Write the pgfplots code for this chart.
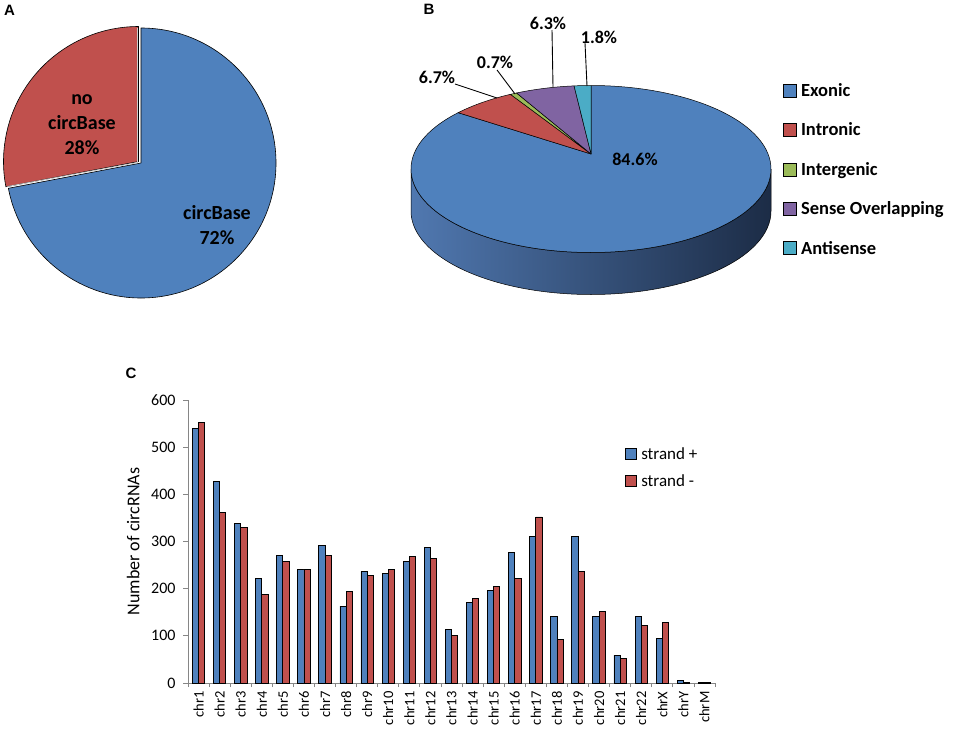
\documentclass[border=0pt]{standalone}
\usepackage{pgfplots}
\pgfplotsset{compat=1.18}
\usepackage{pgfplotstable}
\usepackage{fontspec}
\setmainfont{Carlito}
\newfontfamily\arialfont{Liberation Sans}
\definecolor{cBlue}{HTML}{4F81BD}
\definecolor{cRed}{HTML}{C0504D}
\definecolor{cGreen}{HTML}{9BBB59}
\definecolor{cPurple}{HTML}{8064A2}
\definecolor{cCyan}{HTML}{4BACC6}
\definecolor{axgray}{HTML}{868686}
\definecolor{sideL}{RGB}{80,120,176}
\definecolor{sideR}{RGB}{28,44,70}

\pgfplotstableread{
idx plus minus
0 539 553
1 427 361
2 339 329
3 222 187
4 270 257
5 241 241
6 292 271
7 163 195
8 236 229
9 233 241
10 257 268
11 287 265
12 113 101
13 171 180
14 196 205
15 277 222
16 310 352
17 141 93
18 311 237
19 141 152
20 59 53
21 142 122
22 94 129
23 6 2
24 1 1
}\strandtable

% Panel A values (percent)
\def\vCirc{72}\def\vNoCirc{28}
\pgfmathsetmacro\angA{90+360*(\vNoCirc/(\vCirc+\vNoCirc))}
\pgfmathsetmacro\angAend{\angA-360}
% Panel B values (percent)
\def\vExo{84.6}\def\vInt{6.7}\def\vIge{0.7}\def\vSen{6.3}\def\vAnt{1.8}
\pgfmathsetmacro\totB{\vExo+\vInt+\vIge+\vSen+\vAnt}
\pgfmathsetmacro\pA{90-360*(\vExo/\totB)}
\pgfmathsetmacro\pB{\pA-360*(\vInt/\totB)}
\pgfmathsetmacro\pC{\pB-360*(\vIge/\totB)}
\pgfmathsetmacro\pD{\pC-360*(\vSen/\totB)}
\pgfmathsetmacro\rhoB{0.18}
\pgfmathsetmacro\sqB{sqrt(1-\rhoB*\rhoB)}
\pgfmathsetmacro\tA{atan2(sin(\pA)+\rhoB,\sqB*cos(\pA))}
\pgfmathsetmacro\tB{atan2(sin(\pB)+\rhoB,\sqB*cos(\pB))}
\pgfmathsetmacro\tC{atan2(sin(\pC)+\rhoB,\sqB*cos(\pC))}
\pgfmathsetmacro\tD{atan2(sin(\pD)+\rhoB,\sqB*cos(\pD))}

\newcommand\wedgeB[3]{%
  \filldraw[fill=#3, draw=black, line width=0.5pt, line join=round]
    (axis cs:591,-154) -- (axis cs:{591+180*cos(#1)},{-169+83.5*sin(#1)})
    arc[start angle=#1, end angle=#2, x radius=180pt, y radius=83.5pt] -- cycle;}

\begin{document}
\begin{tikzpicture}[x=1pt,y=1pt]
\path[use as bounding box] (0,0) rectangle (957,-732);
\coordinate (Opos) at (0,-732);
\coordinate (Cpos) at (188,-683);

% ---------- overlay axis for panels A and B ----------
\begin{axis}[
  at={(Opos)}, anchor=south west,
  scale only axis, width=957pt, height=732pt,
  xmin=0, xmax=957, ymin=-732, ymax=0,
  hide axis, clip=false,
  legend image code/.code={\draw[#1, draw=black, line width=0.8pt] (0pt,-6.5pt) rectangle (13pt,6.5pt);},
  legend style={at={(axis description cs:0.8151,0.8907)}, anchor=north west,
    draw=none, fill=none, font=\bfseries\fontsize{18.5}{21}\selectfont,
    row sep=23pt, column sep=3pt, nodes={inner sep=1pt}},
  legend cell align=left,
]
% ----- panel A -----
\filldraw[fill=cBlue, draw=black, line width=0.6pt, line join=round]
  (axis cs:141,-163) -- (axis cs:141,-28)
  arc[start angle=90, end angle=\angAend, radius=135pt] -- cycle;
\filldraw[fill=cRed, draw=black, line width=0.6pt, line join=round]
  (axis cs:138.5,-161.5) -- (axis cs:138.5,-26.5)
  arc[start angle=90, end angle=\angA, radius=135pt] -- cycle;
\draw[gray!40, line width=0.8pt] (axis cs:137.4,-28) -- (axis cs:137.4,-162.6)
  -- (axis cs:{138.5+133.5*cos(\angA)},{-161.5+133.5*sin(\angA)});
\node[align=center, font=\bfseries\fontsize{20}{25}\selectfont] at (axis cs:82,-125) {no\\circBase\\28\%};
\node[align=center, font=\bfseries\fontsize{20}{25}\selectfont] at (axis cs:217,-225.5) {circBase\\72\%};

% ----- panel B -----
\shade[left color=sideL, right color=sideR, draw=black, line width=0.5pt]
  (axis cs:411,-169) arc[start angle=180, end angle=360, x radius=180pt, y radius=83.5pt]
  -- (axis cs:771,-211) arc[start angle=360, end angle=180, x radius=180pt, y radius=83.5pt] -- cycle;
\wedgeB{\tA}{450}{cBlue}
\wedgeB{\tA}{\tB}{cRed}
\wedgeB{\tB}{\tC}{cGreen}
\wedgeB{\tC}{\tD}{cPurple}
\wedgeB{\tD}{90}{cCyan}
\draw[line width=0.9pt] (axis cs:455,-84) -- (axis cs:497,-98);
\draw[line width=0.9pt] (axis cs:497,-70) -- (axis cs:515,-94);
\draw[line width=0.9pt] (axis cs:552,-30) -- (axis cs:553,-87);
\draw[line width=0.9pt] (axis cs:585,-43) -- (axis cs:587,-86);
\begin{scope}[font=\bfseries\fontsize{18}{21}\selectfont]
\node at (axis cs:437,-77) {6.7\%};
\node at (axis cs:495,-62) {0.7\%};
\node at (axis cs:548,-23) {6.3\%};
\node at (axis cs:599,-37) {1.8\%};
\node at (axis cs:635,-159) {84.6\%};
\end{scope}
\addlegendimage{fill=cBlue}\addlegendentry{Exonic}
\addlegendimage{fill=cRed}\addlegendentry{Intronic}
\addlegendimage{fill=cGreen}\addlegendentry{Intergenic}
\addlegendimage{fill=cPurple}\addlegendentry{Sense Overlapping}
\addlegendimage{fill=cCyan}\addlegendentry{Antisense}

% ----- panel letters -----
\begin{scope}[font=\arialfont\bfseries\fontsize{15}{18}\selectfont]
\node at (axis cs:9.5,-10.5) {A};
\node at (axis cs:429,-9) {B};
\node at (axis cs:131,-373.5) {C};
\end{scope}
\end{axis}

% ---------- panel C bar chart ----------
\begin{axis}[
  at={(Cpos)}, anchor=south west,
  scale only axis, width=527pt, height=283pt,
  xmin=-0.5, xmax=24.5, ymin=0, ymax=600,
  ybar=0pt, bar width=6.2pt,
  axis x line*=bottom, axis y line*=left,
  axis line style={draw=axgray, line width=0.8pt, -},
  tick style={draw=axgray, line width=0.8pt},
  tick align=outside,
  major tick length=5pt, minor tick length=4pt,
  ytick={0,100,...,600},
  xtick={0,...,24},
  major x tick style={draw=none},
  minor xtick={-0.5,0.5,...,24.5},
  xticklabels={chr1,chr2,chr3,chr4,chr5,chr6,chr7,chr8,chr9,chr10,chr11,chr12,chr13,chr14,chr15,chr16,chr17,chr18,chr19,chr20,chr21,chr22,chrX,chrY,chrM},
  x tick label style={rotate=90, anchor=east, font=\fontsize{14.5}{17}\selectfont},
  y tick label style={font=\fontsize{16}{19}\selectfont, xshift=-4pt},
  /pgf/number format/assume math mode=true,
  ylabel={Number of circRNAs},
  ylabel style={at={(axis description cs:-0.104,0.5)}, anchor=center, font=\fontsize{18}{21}\selectfont},
  legend image code/.code={\draw[#1, draw=black, line width=0.8pt] (0pt,-5.5pt) rectangle (11pt,5.5pt);},
  legend style={at={(axis description cs:0.824,0.8445)}, anchor=north west,
    draw=none, fill=none, font=\fontsize{17}{20}\selectfont,
    row sep=12pt, column sep=3pt, nodes={inner sep=1pt}},
  legend cell align=left,
]
\addplot[fill=cBlue, draw=black, line width=0.8pt] table[x=idx, y=plus] {\strandtable};
\addlegendentry{strand +}
\addplot[fill=cRed, draw=black, line width=0.8pt] table[x=idx, y=minus] {\strandtable};
\addlegendentry{strand -}
\end{axis}
\end{tikzpicture}
\end{document}
